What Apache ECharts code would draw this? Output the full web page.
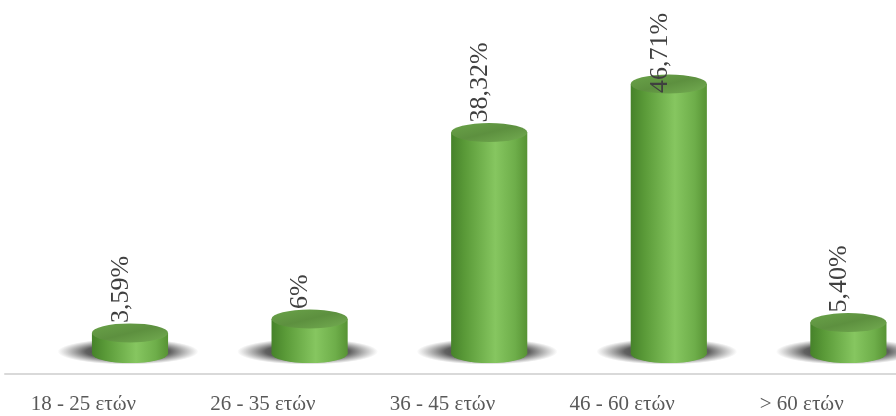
<!DOCTYPE html>
<html>
<head>
<meta charset="utf-8">
<script src="https://cdn.jsdelivr.net/npm/echarts@6/dist/echarts.min.js"></script>
<style>
  html, body { margin: 0; padding: 0; background: #ffffff; }
  #chart { width: 896px; height: 416px; }
</style>
</head>
<body>
<div id="chart"></div>
<script>
// Age groups and their share of respondents (%)
const ageGroups = ['18 - 25 ετών', '26 - 35 ετών', '36 - 45 ετών', '46 - 60 ετών', '> 60 ετών'];
const shares = [3.59, 6, 38.32, 46.71, 5.40];
const shareDecimals = [2, 0, 2, 2, 2];

const serif = "'Liberation Serif', 'Times New Roman', 'DejaVu Serif', serif";

function formatShare(i) {
  return shares[i].toFixed(shareDecimals[i]).replace('.', ',') + '%';
}

const bodyFill = new echarts.graphic.LinearGradient(0, 0, 1, 0, [
  { offset: 0, color: '#46822a' },
  { offset: 0.18, color: '#5a9a38' },
  { offset: 0.58, color: '#86c660' },
  { offset: 0.84, color: '#6eae4a' },
  { offset: 1, color: '#579334' }
]);
const capFill = new echarts.graphic.LinearGradient(0, 0, 1, 1, [
  { offset: 0, color: '#6aa349' },
  { offset: 0.5, color: '#5d903f' },
  { offset: 1, color: '#74ad52' }
]);
const shadowFill = new echarts.graphic.RadialGradient(0.5, 0.5, 0.5, [
  { offset: 0, color: 'rgba(10,10,10,0.95)' },
  { offset: 0.6, color: 'rgba(30,30,30,0.7)' },
  { offset: 1, color: 'rgba(60,60,60,0)' }
]);

function renderCylinder(params, api) {
  const i = api.value(0);
  const v = api.value(1);
  const top = api.coord([i, v]);
  const base = api.coord([i, 0]);
  const band = api.size([1, 0])[0];
  const cx = top[0];
  const rx = band * 0.212;
  const ry = 9.5;
  const sy = ry / rx;
  const shadowR = rx * 1.85;

  // label reads bottom-to-top, kept inside the drawing area
  const labelStart = Math.max(top[1] - 10, 93);

  return {
    type: 'group',
    children: [
      {
        type: 'circle',
        x: cx - 2, y: base[1] - 2,
        scaleY: 13 / shadowR,
        shape: { cx: 0, cy: 0, r: shadowR },
        style: { fill: shadowFill }
      },
      {
        type: 'circle',
        x: cx, y: base[1], scaleY: sy,
        shape: { cx: 0, cy: 0, r: rx },
        style: { fill: bodyFill }
      },
      {
        type: 'rect',
        shape: { x: cx - rx, y: top[1], width: rx * 2, height: base[1] - top[1] },
        style: { fill: bodyFill }
      },
      {
        type: 'circle',
        x: cx, y: top[1], scaleY: sy,
        shape: { cx: 0, cy: 0, r: rx },
        style: { fill: capFill }
      },
      {
        type: 'text',
        x: cx - 9, y: labelStart,
        rotation: Math.PI / 2,
        style: {
          text: formatShare(i),
          fontFamily: serif,
          fontSize: 26,
          fill: '#3f3f3f',
          align: 'left',
          verticalAlign: 'middle'
        }
      }
    ]
  };
}

const chart = echarts.init(document.getElementById('chart'), null, { renderer: 'canvas' });

chart.setOption({
  animation: false,
  backgroundColor: '#ffffff',
  grid: [
    { left: 40.2, width: 898, top: 65, bottom: 62.4, containLabel: false, outerBoundsMode: 'none' },
    { left: 5, width: 898, top: 65, bottom: 42, containLabel: false, outerBoundsMode: 'none' }
  ],
  xAxis: [
    {
      type: 'category', gridIndex: 0, data: ageGroups,
      axisLine: { show: false }, axisTick: { show: false }, axisLabel: { show: false }
    },
    {
      type: 'category', gridIndex: 1, data: ageGroups,
      axisLine: { show: true, lineStyle: { color: '#d9d9d9', width: 2 } },
      axisTick: { show: false },
      axisLabel: {
        margin: 20,
        fontFamily: serif,
        fontSize: 21,
        color: '#595959',
        padding: [0, 23, 0, 0]
      }
    }
  ],
  yAxis: [
    { type: 'value', gridIndex: 0, min: 0, max: 50, show: false },
    { type: 'value', gridIndex: 1, min: 0, max: 50, show: false }
  ],
  series: [
    {
      type: 'custom',
      xAxisIndex: 0,
      yAxisIndex: 0,
      renderItem: renderCylinder,
      clip: false,
      encode: { x: 0, y: 1 },
      data: shares.map((s, i) => [i, s])
    }
  ]
});
</script>
</body>
</html>
